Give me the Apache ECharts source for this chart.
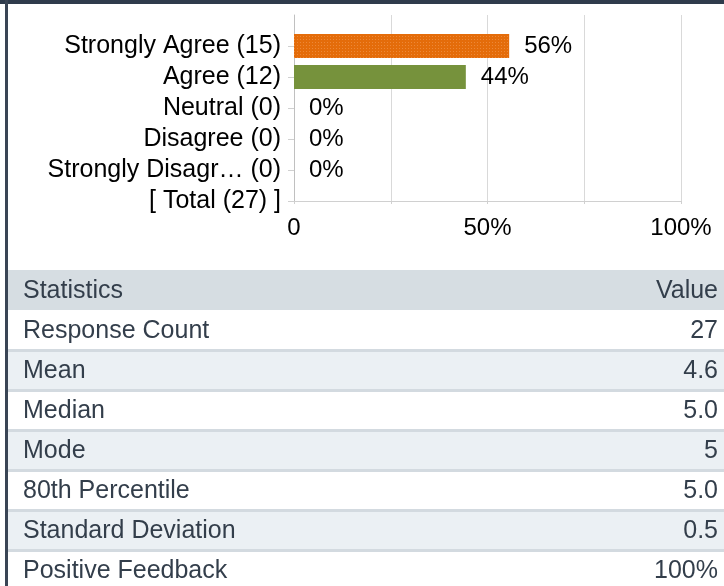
<!DOCTYPE html>
<html>
<head>
<meta charset="utf-8">
<script src="https://cdn.jsdelivr.net/npm/echarts@6/dist/echarts.min.js"></script>
<style>
html, body { margin: 0; padding: 0; background: #fff; }
#chart { width: 724px; height: 586px; }
</style>
</head>
<body>
<div id="chart"></div>
<script>
// answer options, counts and share of responses (%)
var answerNames = ['Strongly Agree', 'Agree', 'Neutral', 'Disagree', 'Strongly Disagr\u2026'];
var answerCounts = [15, 12, 0, 0, 0];
var answerPercents = [55.6, 44.4, 0, 0, 0];
var totalCount = 27;
var barColors = ['#e46c0a', '#76923c', '#999', '#999', '#999'];
var xTickLabels = { 0: '0', 50: '50%', 100: '100%' };

// statistics table
var statHeader = ['Statistics', 'Value'];
var statNames = ['Response Count', 'Mean', 'Median', 'Mode', '80th Percentile', 'Standard Deviation', 'Positive Feedback'];
var statValues = ['27', '4.6', '5.0', '5', '5.0', '0.5', '100%'];

var font = 'Arial, "Liberation Sans", sans-serif';

var categories = [''].concat(answerNames.map(function (n, i) {
	return n + ' (' + answerCounts[i] + ')';
}));
categories.push('[ Total (' + totalCount + ') ]');

var barData = [null].concat(answerPercents.map(function (v, i) {
	var item = { value: v, itemStyle: { color: barColors[i] } };
	if (i === 0) {
		// fine dotted texture on the first bar
		item.itemStyle.decal = {
			symbol: 'rect',
			symbolSize: 1,
			dashArrayX: [1, 2],
			dashArrayY: [1, 2],
			color: 'rgba(255,190,140,0.35)'
		};
	}
	return item;
}));
barData.push(null);

// table built as graphic elements
var graphics = [
	{ type: 'rect', left: 0, top: 0, shape: { width: 724, height: 4 }, style: { fill: '#2f3b4c' }, z: 10 },
	{ type: 'rect', left: 5, top: 0, shape: { width: 3, height: 586 }, style: { fill: '#3a4555' }, z: 10 }
];
var tableTop = 270, rowH = 40;
var rows = [statHeader].concat(statNames.map(function (n, i) { return [n, statValues[i]]; }));
rows.forEach(function (r, i) {
	var y = tableTop + i * rowH;
	var bg = i === 0 ? '#d6dde2' : (i % 2 === 0 ? '#ebf0f4' : '#ffffff');
	graphics.push({ type: 'rect', left: 8, top: y, shape: { width: 716, height: rowH }, style: { fill: bg } });
	if (i > 1) {
		graphics.push({ type: 'rect', left: 8, top: y - 1, shape: { width: 716, height: 3 }, style: { fill: '#d3dae0' } });
	}
	graphics.push({
		type: 'text', x: 23, y: y + rowH / 2 + 1,
		style: { text: r[0], font: '25px ' + font, fill: '#333e4b', verticalAlign: 'middle', align: 'left' }
	});
	graphics.push({
		type: 'text', x: 718, y: y + rowH / 2 + 1,
		style: { text: r[1], font: '25px ' + font, fill: '#333e4b', verticalAlign: 'middle', align: 'right' }
	});
});

var myChart = echarts.init(document.getElementById('chart'), null, { renderer: 'canvas' });
var option = {
	animation: false,
	textStyle: { fontFamily: font },
	grid: { left: 294, right: 43, top: 15, bottom: 385, containLabel: false },
	xAxis: {
		type: 'value',
		min: 0,
		max: 100,
		interval: 25,
		axisLine: { show: true, lineStyle: { color: '#d0d0d0' } },
		axisTick: { show: true, length: 3, lineStyle: { color: '#d0d0d0' } },
		axisLabel: {
			margin: 15,
			fontSize: 24,
			color: '#000',
			formatter: function (v) { return xTickLabels[v] !== undefined ? xTickLabels[v] : ''; }
		},
		splitLine: { show: true, lineStyle: { color: '#d9d9d9' } }
	},
	yAxis: {
		type: 'category',
		inverse: true,
		boundaryGap: false,
		data: categories,
		axisLine: { show: true, lineStyle: { color: '#c0c0c0' } },
		axisTick: {
			show: true,
			length: 6,
			interval: function (i) { return i > 0; },
			lineStyle: { color: '#d0d0d0' }
		},
		axisLabel: { interval: 0, hideOverlap: false, margin: 13, fontSize: 25, color: '#000' },
		splitLine: { show: false }
	},
	series: [{
		type: 'bar',
		barWidth: 24,
		data: barData,
		label: {
			show: true,
			position: 'right',
			distance: 15,
			fontSize: 24,
			color: '#000',
			formatter: function (p) { return Math.round(p.value) + '%'; }
		}
	}],
	graphic: graphics
};
myChart.setOption(option);
</script>
</body>
</html>
